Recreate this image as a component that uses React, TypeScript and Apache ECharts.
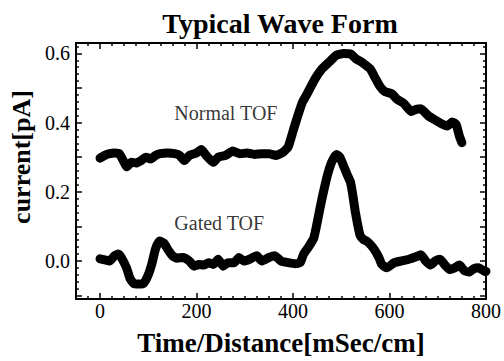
import React, { useEffect, useRef } from "react";
import * as echarts from "echarts";

const titleText = "Typical Wave Form";
const xAxisName = "Time/Distance[mSec/cm]";
const yAxisName = "current[pA]";

const normalX = [0, 10, 20, 30, 40, 50, 55, 65, 75, 85, 95, 105, 115, 125, 140, 155, 165, 175, 185, 200, 210, 220, 235, 245, 260, 275, 290, 305, 320, 335, 350, 365, 380, 390, 400, 410, 420, 430, 445, 460, 475, 490, 505, 520, 530, 545, 560, 570, 580, 590, 605, 615, 630, 645, 655, 665, 680, 695, 710, 720, 730, 738, 745, 750];
const normalY = [0.297, 0.305, 0.31, 0.312, 0.31, 0.285, 0.272, 0.285, 0.283, 0.29, 0.3, 0.295, 0.305, 0.31, 0.312, 0.31, 0.305, 0.29, 0.305, 0.312, 0.322, 0.305, 0.285, 0.3, 0.305, 0.318, 0.31, 0.312, 0.308, 0.31, 0.31, 0.305, 0.315, 0.33, 0.375, 0.42, 0.46, 0.485, 0.525, 0.555, 0.575, 0.595, 0.6, 0.598, 0.585, 0.572, 0.555, 0.53, 0.505, 0.49, 0.483, 0.468, 0.455, 0.432, 0.438, 0.44, 0.42, 0.407, 0.395, 0.39, 0.402, 0.395, 0.36, 0.342];

const gatedX = [0, 10, 20, 30, 38, 45, 55, 62, 70, 80, 90, 100, 108, 115, 123, 132, 142, 150, 160, 172, 185, 195, 205, 215, 225, 235, 245, 255, 265, 278, 288, 298, 310, 325, 335, 350, 362, 375, 390, 405, 415, 422, 432, 443, 450, 457, 464, 471, 480, 490, 497, 505, 512, 519, 524, 529, 534, 539, 546, 553, 562, 570, 578, 584, 594, 610, 625, 640, 655, 665, 675, 685, 695, 705, 715, 725, 735, 745, 755, 765, 775, 785, 795, 800];
const gatedY = [0.006, 0.003, 0.0, 0.015, 0.02, 0.008, -0.02, -0.05, -0.065, -0.067, -0.065, -0.04, -0.005, 0.035, 0.058, 0.052, 0.03, 0.015, 0.008, 0.01, 0.0, -0.015, -0.01, -0.012, -0.005, -0.01, 0.005, -0.015, -0.005, -0.005, 0.01, 0.0, 0.005, 0.015, 0.0, 0.01, 0.015, 0.0, -0.005, -0.008, -0.005, 0.02, 0.04, 0.066, 0.11, 0.16, 0.205, 0.246, 0.285, 0.308, 0.3, 0.274, 0.25, 0.228, 0.19, 0.143, 0.105, 0.074, 0.062, 0.057, 0.045, 0.03, 0.01, -0.01, -0.02, -0.005, 0.0, 0.005, 0.012, 0.018, 0.0, -0.012, 0.0, 0.005, -0.012, -0.025, -0.02, -0.012, -0.028, -0.032, -0.022, -0.02, -0.028, -0.03];

const annotationTexts = ["Normal TOF", "Gated TOF"];
const annotationX = [154, 154];
const annotationY = [0.429, 0.109];

const xMin = -50;
const xMax = 800;
const yMin = -0.11;
const yMax = 0.63;

const SERIF = "'Liberation Serif', 'Times New Roman', serif";

export default function App() {
  const ref = useRef<HTMLDivElement>(null);
  useEffect(() => {
    if (!ref.current) return;
    const chart = echarts.init(ref.current, undefined, { renderer: "svg" });
    const axisLine = { show: true, onZero: false, lineStyle: { color: "#000", width: 2 } };
    const axisTick = { show: true, inside: true, length: 6, lineStyle: { color: "#000", width: 1.5 } };
    const xMinor = { show: true, splitNumber: 8, length: 3, lineStyle: { color: "#000", width: 1.5 } };
    const yMinor = { show: true, splitNumber: 5, length: 3, lineStyle: { color: "#000", width: 1.5 } };
    const isMult = (v: number, step: number) => Math.abs(v / step - Math.round(v / step)) < 1e-6;
    const line = (xs: number[], ys: number[]) => xs.map((x, i) => [x, ys[i]]);
    const tickFont = { fontFamily: SERIF, fontSize: 20, color: "#000", fontWeight: "normal" };
    chart.setOption({
      animation: false,
      backgroundColor: "#fff",
      textStyle: { fontFamily: SERIF },
      title: {
        text: titleText,
        left: 275,
        top: 4,
        textAlign: "center",
        textStyle: { fontFamily: SERIF, fontWeight: "bold", fontSize: 28, color: "#000" },
      },
      grid: { left: 73, right: 17, top: 43, bottom: 59, containLabel: false },
      xAxis: [
        {
          type: "value",
          position: "bottom",
          min: xMin,
          max: xMax,
          axisLine,
          axisTick,
          minorTick: xMinor,
          splitLine: { show: false },
          axisLabel: {
            margin: 2,
            ...tickFont,
            formatter: (v: number) => (v >= 0 && isMult(v, 200) ? String(Math.round(v)) : ""),
          },
          name: xAxisName,
          nameLocation: "middle",
          nameGap: 30,
          nameTextStyle: { fontFamily: SERIF, fontWeight: "bold", fontSize: 27, color: "#000" },
        },
        {
          type: "value",
          position: "top",
          min: xMin,
          max: xMax,
          axisLine,
          axisTick,
          minorTick: xMinor,
          splitLine: { show: false },
          axisLabel: { show: false },
        },
      ],
      yAxis: [
        {
          type: "value",
          position: "left",
          min: yMin,
          max: yMax,
          axisLine,
          axisTick,
          minorTick: yMinor,
          splitLine: { show: false },
          axisLabel: {
            margin: 6,
            ...tickFont,
            formatter: (v: number) => (v > -0.05 && v < 0.65 && isMult(v, 0.2) ? v.toFixed(1) : ""),
          },
          name: yAxisName,
          nameLocation: "middle",
          nameGap: 34,
          nameTextStyle: { fontFamily: SERIF, fontWeight: "bold", fontSize: 26, color: "#000", padding: [0, 0, 0, 28] },
        },
        {
          type: "value",
          position: "right",
          min: yMin,
          max: yMax,
          axisLine,
          axisTick,
          minorTick: yMinor,
          splitLine: { show: false },
          axisLabel: { show: false },
        },
      ],
      series: [
        {
          name: "Normal TOF",
          type: "line",
          data: line(normalX, normalY),
          showSymbol: false,
          smooth: 0.15,
          lineStyle: { color: "#000", width: 9, cap: "round", join: "round" },
          clip: true,
        },
        {
          name: "Gated TOF",
          type: "line",
          data: line(gatedX, gatedY),
          showSymbol: false,
          smooth: 0.15,
          lineStyle: { color: "#000", width: 9, cap: "round", join: "round" },
          clip: true,
        },
        {
          name: "labels",
          type: "scatter",
          symbolSize: 0,
          silent: true,
          data: annotationTexts.map((t, i) => ({ name: t, value: [annotationX[i], annotationY[i]] })),
          label: {
            show: true,
            position: [0, 0],
            align: "left",
            verticalAlign: "middle",
            formatter: (p: any) => p.name,
            fontFamily: SERIF,
            fontSize: 20,
            color: "#000",
          },
        },
      ],
    });
    return () => chart.dispose();
  }, []);
  return <div ref={ref} style={{ position: "fixed", left: 0, top: 0, width: 504, height: 361 }} />;
}
